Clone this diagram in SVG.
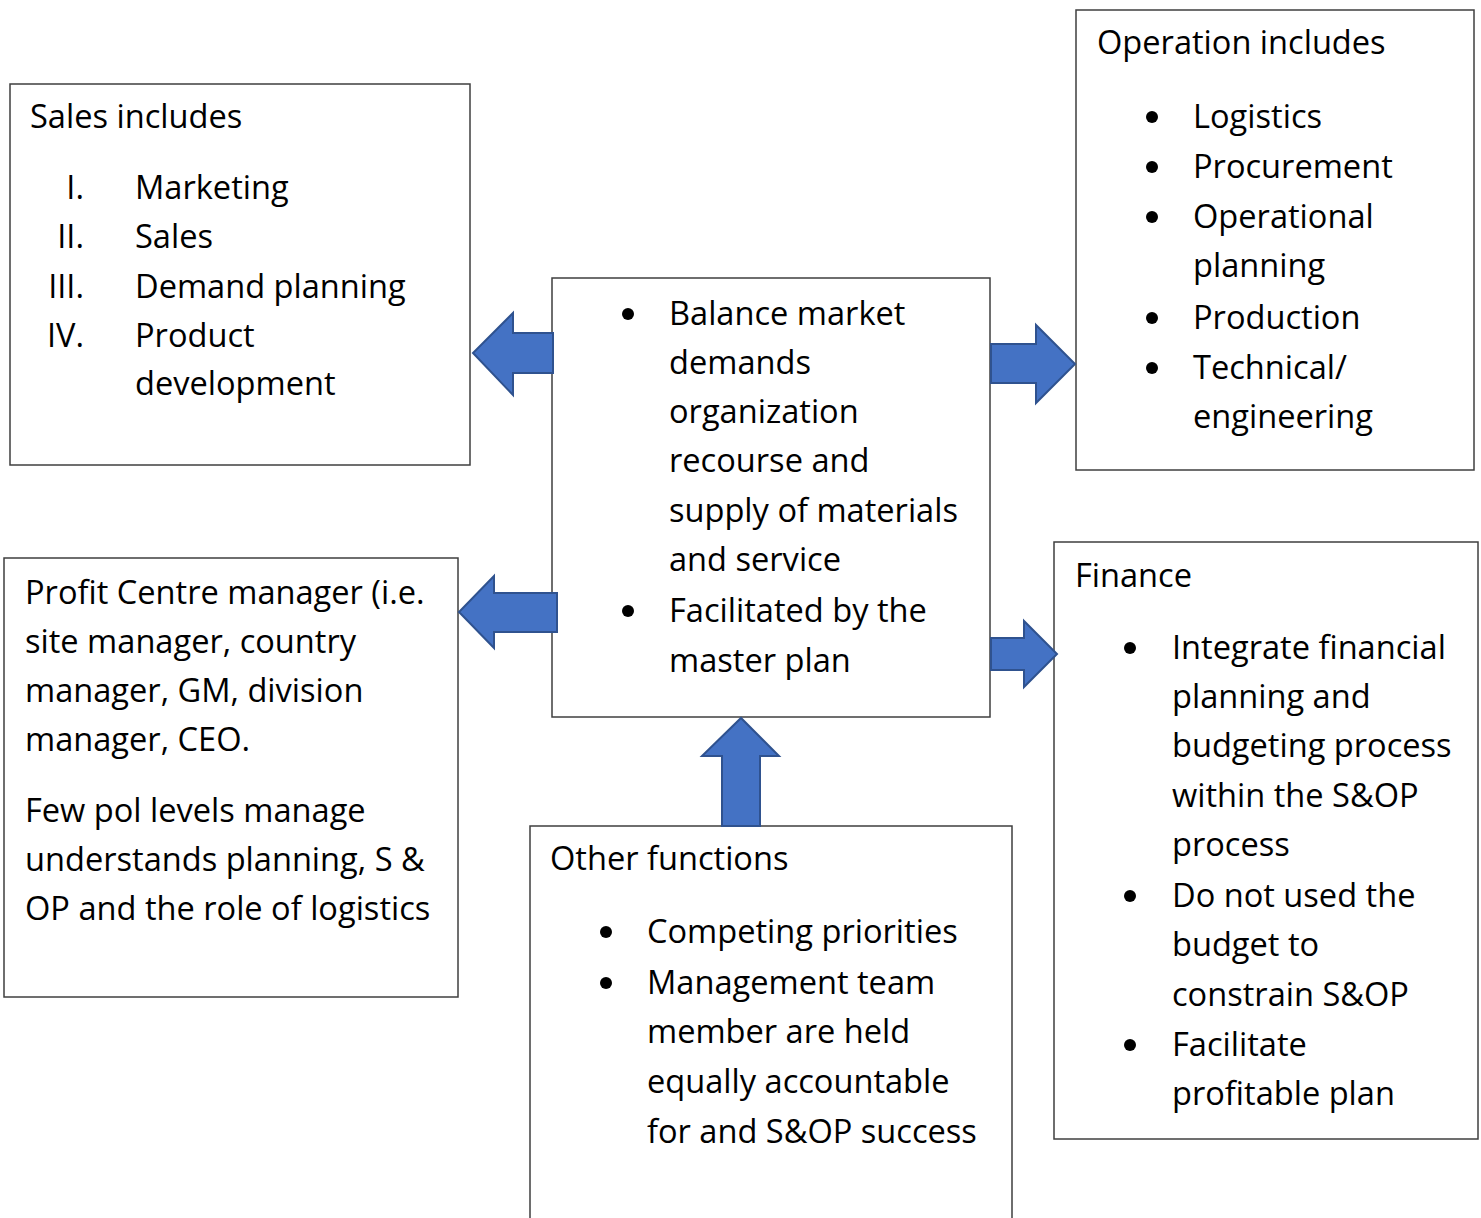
<svg xmlns="http://www.w3.org/2000/svg" width="1481" height="1218" viewBox="0 0 1481 1218">
<style>
.box{fill:#fff;stroke:#3f3f3f;stroke-width:1.5}
.t{font-family:"Open Sans",Lato,sans-serif;font-size:32.6px;fill:#000}
.r{text-anchor:end}
.arr{fill:#4472C4;stroke:#2F528F;stroke-width:2;stroke-linejoin:miter}
.b{fill:#000}
</style>
<rect width="1481" height="1218" fill="#fff"/>
<g id="sales">
<rect class="box" x="10" y="84" width="460" height="381"/>
<text class="t" x="30" y="128">Sales includes</text>
<text class="t r" x="84" y="199">I.</text><text class="t" x="135" y="199">Marketing</text>
<text class="t r" x="84" y="248">II.</text><text class="t" x="135" y="248">Sales</text>
<text class="t r" x="84" y="298">III.</text><text class="t" x="135" y="298">Demand planning</text>
<text class="t r" x="84" y="347">IV.</text><text class="t" x="135" y="347">Product</text>
<text class="t" x="135" y="395">development</text>
</g>
<g id="operation">
<rect class="box" x="1076" y="10" width="398" height="460"/>
<text class="t" x="1097" y="54">Operation includes</text>
<circle class="b" cx="1152" cy="117" r="6"/><text class="t" x="1193" y="128">Logistics</text>
<circle class="b" cx="1152" cy="167" r="6"/><text class="t" x="1193" y="178">Procurement</text>
<circle class="b" cx="1152" cy="217" r="6"/><text class="t" x="1193" y="228">Operational</text>
<text class="t" x="1193" y="277">planning</text>
<circle class="b" cx="1152" cy="318" r="6"/><text class="t" x="1193" y="329">Production</text>
<circle class="b" cx="1152" cy="368" r="6"/><text class="t" x="1193" y="379">Technical/</text>
<text class="t" x="1193" y="428">engineering</text>
</g>
<g id="center">
<rect class="box" x="552" y="278" width="438" height="439"/>
<circle class="b" cx="628" cy="314" r="6"/><text class="t" x="669" y="325">Balance market</text>
<text class="t" x="669" y="374">demands</text>
<text class="t" x="669" y="423">organization</text>
<text class="t" x="669" y="472">recourse and</text>
<text class="t" x="669" y="522">supply of materials</text>
<text class="t" x="669" y="571">and service</text>
<circle class="b" cx="628" cy="611" r="6"/><text class="t" x="669" y="622">Facilitated by the</text>
<text class="t" x="669" y="672">master plan</text>
</g>
<g id="profit">
<rect class="box" x="4" y="558" width="454" height="439"/>
<text class="t" x="25" y="604">Profit Centre manager (i.e.</text>
<text class="t" x="25" y="653">site manager, country</text>
<text class="t" x="25" y="702">manager, GM, division</text>
<text class="t" x="25" y="751">manager, CEO.</text>
<text class="t" x="25" y="822">Few pol levels manage</text>
<text class="t" x="25" y="871">understands planning, S &amp;</text>
<text class="t" x="25" y="920">OP and the role of logistics</text>
</g>
<g id="finance">
<rect class="box" x="1054" y="542" width="424" height="597"/>
<text class="t" x="1075" y="587">Finance</text>
<circle class="b" cx="1130" cy="648" r="6"/><text class="t" x="1172" y="659">Integrate financial</text>
<text class="t" x="1172" y="708">planning and</text>
<text class="t" x="1172" y="757">budgeting process</text>
<text class="t" x="1172" y="807">within the S&amp;OP</text>
<text class="t" x="1172" y="856">process</text>
<circle class="b" cx="1130" cy="896" r="6"/><text class="t" x="1172" y="907">Do not used the</text>
<text class="t" x="1172" y="956">budget to</text>
<text class="t" x="1172" y="1006">constrain S&amp;OP</text>
<circle class="b" cx="1130" cy="1045" r="6"/><text class="t" x="1172" y="1056">Facilitate</text>
<text class="t" x="1172" y="1105">profitable plan</text>
</g>
<g id="other">
<path class="box" d="M530,1219 V826 H1012 V1219"/>
<text class="t" x="550" y="870">Other functions</text>
<circle class="b" cx="606" cy="932" r="6"/><text class="t" x="647" y="943">Competing priorities</text>
<circle class="b" cx="606" cy="983" r="6"/><text class="t" x="647" y="994">Management team</text>
<text class="t" x="647" y="1043">member are held</text>
<text class="t" x="647" y="1093">equally accountable</text>
<text class="t" x="647" y="1143">for and S&amp;OP success</text>
</g>
<g id="connectors">
<path class="arr" d="M553,333 H513 V313 L473,353 L513,395 V373 H553 Z"/>
<path class="arr" d="M991,344 H1036 V325 L1075,364 L1036,403 V383 H991 Z"/>
<path class="arr" d="M557,593 H494 V576 L459,612 L494,648 V632 H557 Z"/>
<path class="arr" d="M991,638 H1024 V621 L1057,654 L1024,687 V670 H991 Z"/>
<path class="arr" d="M722,826 V756 H702 L741,718 L779,756 H760 V826 Z"/>
</g>
</svg>
